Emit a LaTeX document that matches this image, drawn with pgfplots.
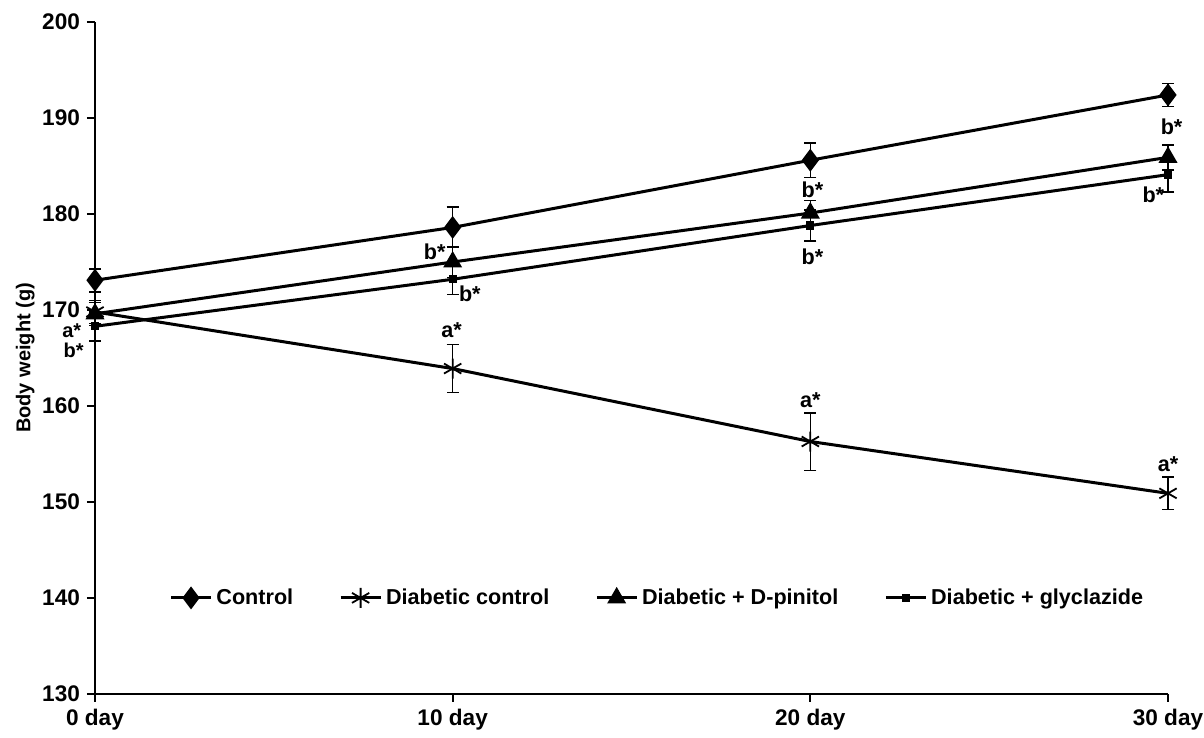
\documentclass[border=0pt]{standalone}
\usepackage{pgfplots}
\pgfplotsset{compat=1.18}
\usepackage{fontspec}
\setmainfont{Liberation Sans}
\begin{document}
\begin{tikzpicture}
\begin{axis}[
  scale only axis,
  width=536.5pt, height=336pt,
  xmin=0, xmax=30, ymin=130, ymax=200,
  axis lines=left,
  axis line style={line width=1.3pt, -},
  xtick={0,10,20,30},
  xticklabels={0 day,10 day,20 day,30 day},
  ytick={130,140,...,200},
  tick align=outside,
  major tick length=4pt,
  tick style={line width=1pt, black},
  ticklabel style={font=\fontsize{11.3}{13}\selectfont\bfseries},
  /pgf/number format/assume math mode=true,
  ylabel={Body weight (g)},
  ylabel style={font=\fontsize{10}{12}\selectfont\bfseries},
  ylabel shift=-3pt,
  clip=false,
  legend columns=4,
  legend style={draw=none, fill=none, at={(0.525,0.143)}, anchor=center,
    font=\fontsize{10.8}{13}\selectfont\bfseries,
    /tikz/every even column/.append style={column sep=21pt}},
  legend image code/.code={
    \draw[mark repeat=2,mark phase=2,#1] plot coordinates {(0cm,0cm) (0.35cm,0cm) (0.7cm,0cm)};},
  error bars/error bar style={line width=0.8pt, black},
  error bars/error mark options={rotate=90, mark size=3pt, line width=0.8pt, black},
]
\addplot[black, line width=1.5pt, mark=diamond*, mark size=4.5pt, mark options={fill=black, solid},
  error bars/.cd, y dir=both, y explicit]
  coordinates {(0,173.1) +- (0,1.2) (10,178.6) +- (0,2.1) (20,185.6) +- (0,1.8) (30,192.4) +- (0,1.2)};
\addlegendentry{Control}
\addplot[black, line width=1.5pt, mark=asterisk, mark size=5pt, mark options={solid, line width=0.9pt},
  error bars/.cd, y dir=both, y explicit]
  coordinates {(0,169.8) +- (0,1.2) (10,163.9) +- (0,2.5) (20,156.3) +- (0,3.0) (30,150.9) +- (0,1.7)};
\addlegendentry{Diabetic control}
\addplot[black, line width=1.5pt, mark=triangle*, mark size=4pt, mark options={fill=black, solid},
  error bars/.cd, y dir=both, y explicit]
  coordinates {(0,169.6) +- (0,1.2) (10,175.0) +- (0,1.6) (20,180.1) +- (0,1.3) (30,185.9) +- (0,1.3)};
\addlegendentry{Diabetic + D-pinitol}
\addplot[black, line width=1.5pt, mark=square*, mark size=1.3pt, mark options={fill=black, solid},
  error bars/.cd, y dir=both, y explicit]
  coordinates {(0,168.3) +- (0,1.5) (10,173.2) +- (0,1.6) (20,178.8) +- (0,1.6) (30,184.1) +- (0,1.8)};
\addlegendentry{Diabetic + glyclazide}
\begin{scope}[every node/.style={font=\fontsize{10.8}{12}\selectfont\bfseries, inner sep=0pt}]
\node[font=\fontsize{10}{11}\selectfont\bfseries] at (axis cs:-0.65,167.8) {a*};
\node[font=\fontsize{10}{11}\selectfont\bfseries] at (axis cs:-0.6,165.75) {b*};
\node at (axis cs:9.5,176.1) {b*};
\node at (axis cs:10.48,171.7) {b*};
\node at (axis cs:9.97,167.9) {a*};
\node at (axis cs:20.06,182.5) {b*};
\node at (axis cs:20.06,175.55) {b*};
\node at (axis cs:20,160.6) {a*};
\node at (axis cs:30.1,189.1) {b*};
\node at (axis cs:29.59,182.0) {b*};
\node at (axis cs:30,153.9) {a*};
\end{scope}
\coordinate (LL) at (rel axis cs:0,0);
\coordinate (UR) at (rel axis cs:1,1);
\end{axis}
\pgfresetboundingbox
\path ([xshift=-47.5pt,yshift=-22pt]LL) rectangle ([xshift=18pt,yshift=11pt]UR);
\end{tikzpicture}
\end{document}
